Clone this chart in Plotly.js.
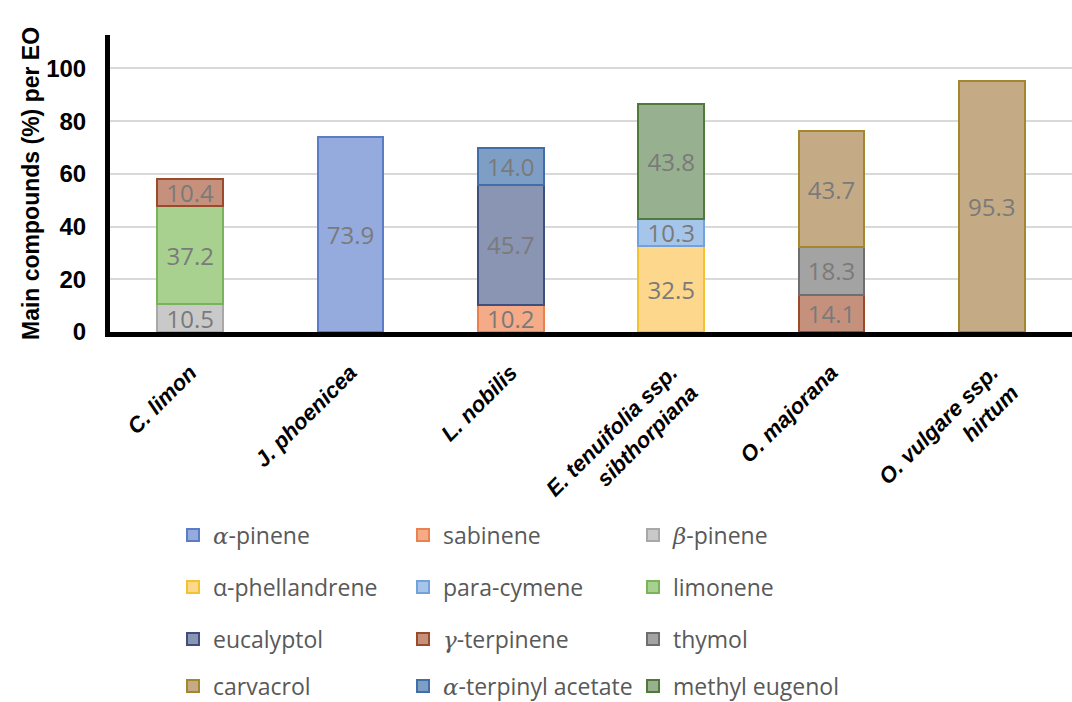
<!DOCTYPE html>
<html>
<head>
<meta charset="utf-8">
<script src="https://cdn.plot.ly/plotly-3.0.1.min.js"></script>
<style>html,body{margin:0;padding:0;background:#fff;}#chart{width:1072px;height:702px;}</style>
</head>
<body>
<div id="chart"></div>
<script>
const categories = ["C. limon", "J. phoenicea", "L. nobilis", "E. tenuifolia ssp.<br>sibthorpiana", "O. majorana", "O. vulgare ssp.<br>hirtum"];

const compounds = ["α-pinene", "sabinene", "β-pinene", "α-phellandrene", "para-cymene", "limonene", "eucalyptol", "γ-terpinene", "thymol", "carvacrol", "α-terpinyl acetate", "methyl eugenol"];

const alphaPinene       = [null, 73.9, null, null, null, null];
const sabinene          = [null, null, 10.2, null, null, null];
const betaPinene        = [10.5, null, null, null, null, null];
const alphaPhellandrene = [null, null, null, 32.5, null, null];
const paraCymene        = [null, null, null, 10.3, null, null];
const limonene          = [37.2, null, null, null, null, null];
const eucalyptol        = [null, null, 45.7, null, null, null];
const gammaTerpinene    = [10.4, null, null, null, 14.1, null];
const thymol            = [null, null, null, null, 18.3, null];
const carvacrol         = [null, null, null, null, 43.7, 95.3];
const alphaTerpinylAc   = [null, null, 14.0, null, null, null];
const methylEugenol     = [null, null, null, 43.8, null, null];

const seriesValues = [alphaPinene, sabinene, betaPinene, alphaPhellandrene, paraCymene, limonene, eucalyptol, gammaTerpinene, thymol, carvacrol, alphaTerpinylAc, methylEugenol];

const yTickVals = [0, 20, 40, 60, 80, 100];

const greek = s => '<span style="font-family:\'DejaVu Serif\';font-style:italic">' + s + '</span>';
const legendNames = [
  greek('α') + '-pinene', 'sabinene', greek('β') + '-pinene',
  'α-phellandrene', 'para-cymene', 'limonene',
  'eucalyptol', greek('γ') + '-terpinene', 'thymol',
  'carvacrol', greek('α') + '-terpinyl acetate', 'methyl eugenol'
];

const fills = ['#95aadd', '#f5aa88', '#c9c9c9', '#fdd78b', '#a5c5ea', '#a8d190', '#8a95b3', '#c6917c', '#a3a3a3', '#c4ab86', '#7f9ec6', '#97b08f'];
const lines = ['#5b7cc9', '#ea8250', '#a8a8a8', '#f3c230', '#72a2dc', '#79b35a', '#3e4f7f', '#9b4b2b', '#6e6e6e', '#a3862e', '#3f6ea8', '#4f7a3a'];
const legendIds = ['legend', 'legend', 'legend', 'legend2', 'legend2', 'legend2', 'legend3', 'legend3', 'legend3', 'legend4', 'legend4', 'legend4'];

const traces = seriesValues.map((vals, i) => ({
  type: 'bar',
  name: legendNames[i],
  x: categories,
  y: vals,
  width: 0.41,
  text: vals.map(v => v == null ? '' : v.toFixed(1)),
  textposition: 'inside',
  insidetextanchor: 'middle',
  constraintext: 'none',
  textangle: 0,
  textfont: {family: 'Open Sans', size: 24, color: '#7a7a7a'},
  marker: {color: fills[i], line: {color: lines[i], width: 2}},
  legend: legendIds[i],
  hoverinfo: 'skip'
}));

const legendBase = {
  orientation: 'h',
  xref: 'container', yref: 'container',
  x: 173 / 1072, xanchor: 'left', yanchor: 'middle',
  entrywidth: 185, entrywidthmode: 'pixels',
  traceorder: 'normal',
  bgcolor: 'rgba(0,0,0,0)',
  font: {family: 'Open Sans', size: 23, color: '#595959'},
  itemclick: false, itemdoubleclick: false
};

const layout = {
  width: 1072, height: 702,
  margin: {l: 110, r: 0, t: 35, b: 370},
  paper_bgcolor: '#fff', plot_bgcolor: '#fff',
  barmode: 'stack',
  showlegend: true,
  legend:  Object.assign({}, legendBase, {y: 1 - 535/702}),
  legend2: Object.assign({}, legendBase, {y: 1 - 587/702}),
  legend3: Object.assign({}, legendBase, {y: 1 - 639/702}),
  legend4: Object.assign({}, legendBase, {y: 1 - 686/702}),
  xaxis: {
    type: 'category',
    showline: true, linecolor: '#000', linewidth: 5,
    showgrid: false, ticks: '',
    tickangle: -45,
    ticklabelstandoff: 14,
    tickfont: {family: 'Liberation Sans', size: 22, color: '#000', weight: 'bold', style: 'italic'},
    automargin: false
  },
  yaxis: {
    range: [0, 112.7],
    tickvals: yTickVals,
    ticktext: yTickVals.map(String),
    showline: true, linecolor: '#000', linewidth: 5,
    showgrid: true, gridcolor: '#d9d9d9', gridwidth: 2,
    zeroline: false, ticks: '',
    ticklabelstandoff: 14,
    tickfont: {family: 'Liberation Sans', size: 24, color: '#000', weight: 'bold'},
    title: {text: 'Main compounds (%) per EO', font: {family: 'Liberation Sans', size: 23, color: '#000', weight: 'bold'}, standoff: 2},
    automargin: false
  }
};

Plotly.newPlot('chart', traces, layout, {staticPlot: true, displayModeBar: false});
</script>
</body>
</html>
